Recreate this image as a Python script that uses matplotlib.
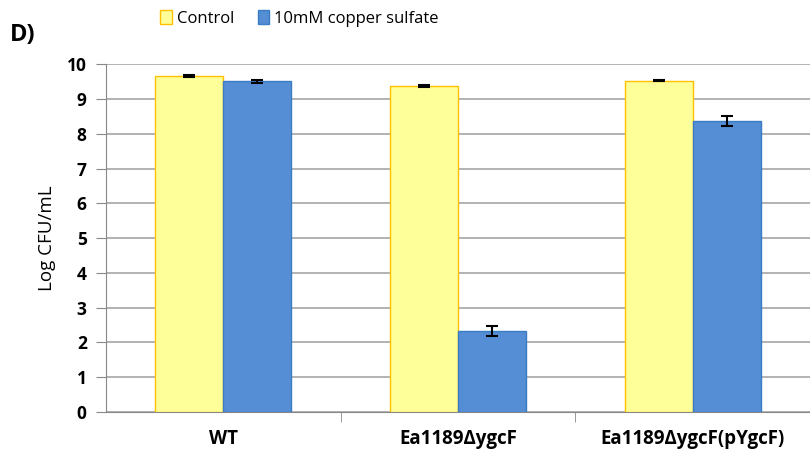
import matplotlib.pyplot as plt
import numpy as np

# data
strains = ["WT", "Ea1189\u0394ygcF", "Ea1189\u0394ygcF(pYgcF)"]
control = [9.65, 9.37, 9.53]
control_err = [0.03, 0.04, 0.02]
copper = [9.51, 2.32, 8.37]
copper_err = [0.04, 0.14, 0.15]
series_names = ["Control", "10mM copper sulfate"]

plt.rcParams["font.family"] = ["Open Sans", "DejaVu Sans"]

fig = plt.figure(figsize=(8.1, 4.55), dpi=100)
ax = fig.add_axes([0.131, 0.0945, 0.869, 0.7645])

x = np.arange(len(strains))
w = 0.29
err_kw = dict(ecolor="black", elinewidth=1.5, capsize=4, capthick=1.5)
b1 = ax.bar(x - w / 2, control, w, yerr=control_err, color="#FFFF99",
            edgecolor="#FFC000", linewidth=1, error_kw=err_kw, zorder=3,
            label=series_names[0])
b2 = ax.bar(x + w / 2, copper, w, yerr=copper_err, color="#558ED5",
            edgecolor="#3A7CC4", linewidth=1, error_kw=err_kw, zorder=3,
            label=series_names[1])

ax.set_xlim(-0.5, len(strains) - 0.5)
ax.set_ylim(0, 10)
ax.set_yticks(range(0, 11))
ax.set_xticks(x)
ax.set_xticklabels(strains, fontsize=13.5, fontweight="bold")
ax.set_xticks(np.arange(0.5, len(strains) - 0.5, 1), minor=True)
ax.tick_params(axis="x", which="major", length=0, pad=12)
ax.tick_params(axis="x", which="minor", length=7, color="#888888", direction="out")
ax.tick_params(axis="y", length=7, color="#888888", labelsize=12.5, pad=7)
for lab in ax.get_yticklabels():
    lab.set_fontweight("bold")

ax.grid(axis="y", color="#A6A6A6", linewidth=1.2, zorder=0)
ax.set_axisbelow(True)
for s in ["top", "right"]:
    ax.spines[s].set_visible(False)
for s in ["left", "bottom"]:
    ax.spines[s].set_color("#888888")

ax.set_ylabel("Log CFU/mL", fontsize=13.5, labelpad=8)

fig.text(0.012, 0.91, "D)", fontsize=17, fontweight="bold")
fig.legend(handles=[b1, b2], loc="upper center", bbox_to_anchor=(0.37, 1.012),
           ncol=2, frameon=False, fontsize=12, handlelength=0.7,
           handleheight=1.0, handletextpad=0.3, columnspacing=1.4)

plt.savefig("out.png", dpi=100)
